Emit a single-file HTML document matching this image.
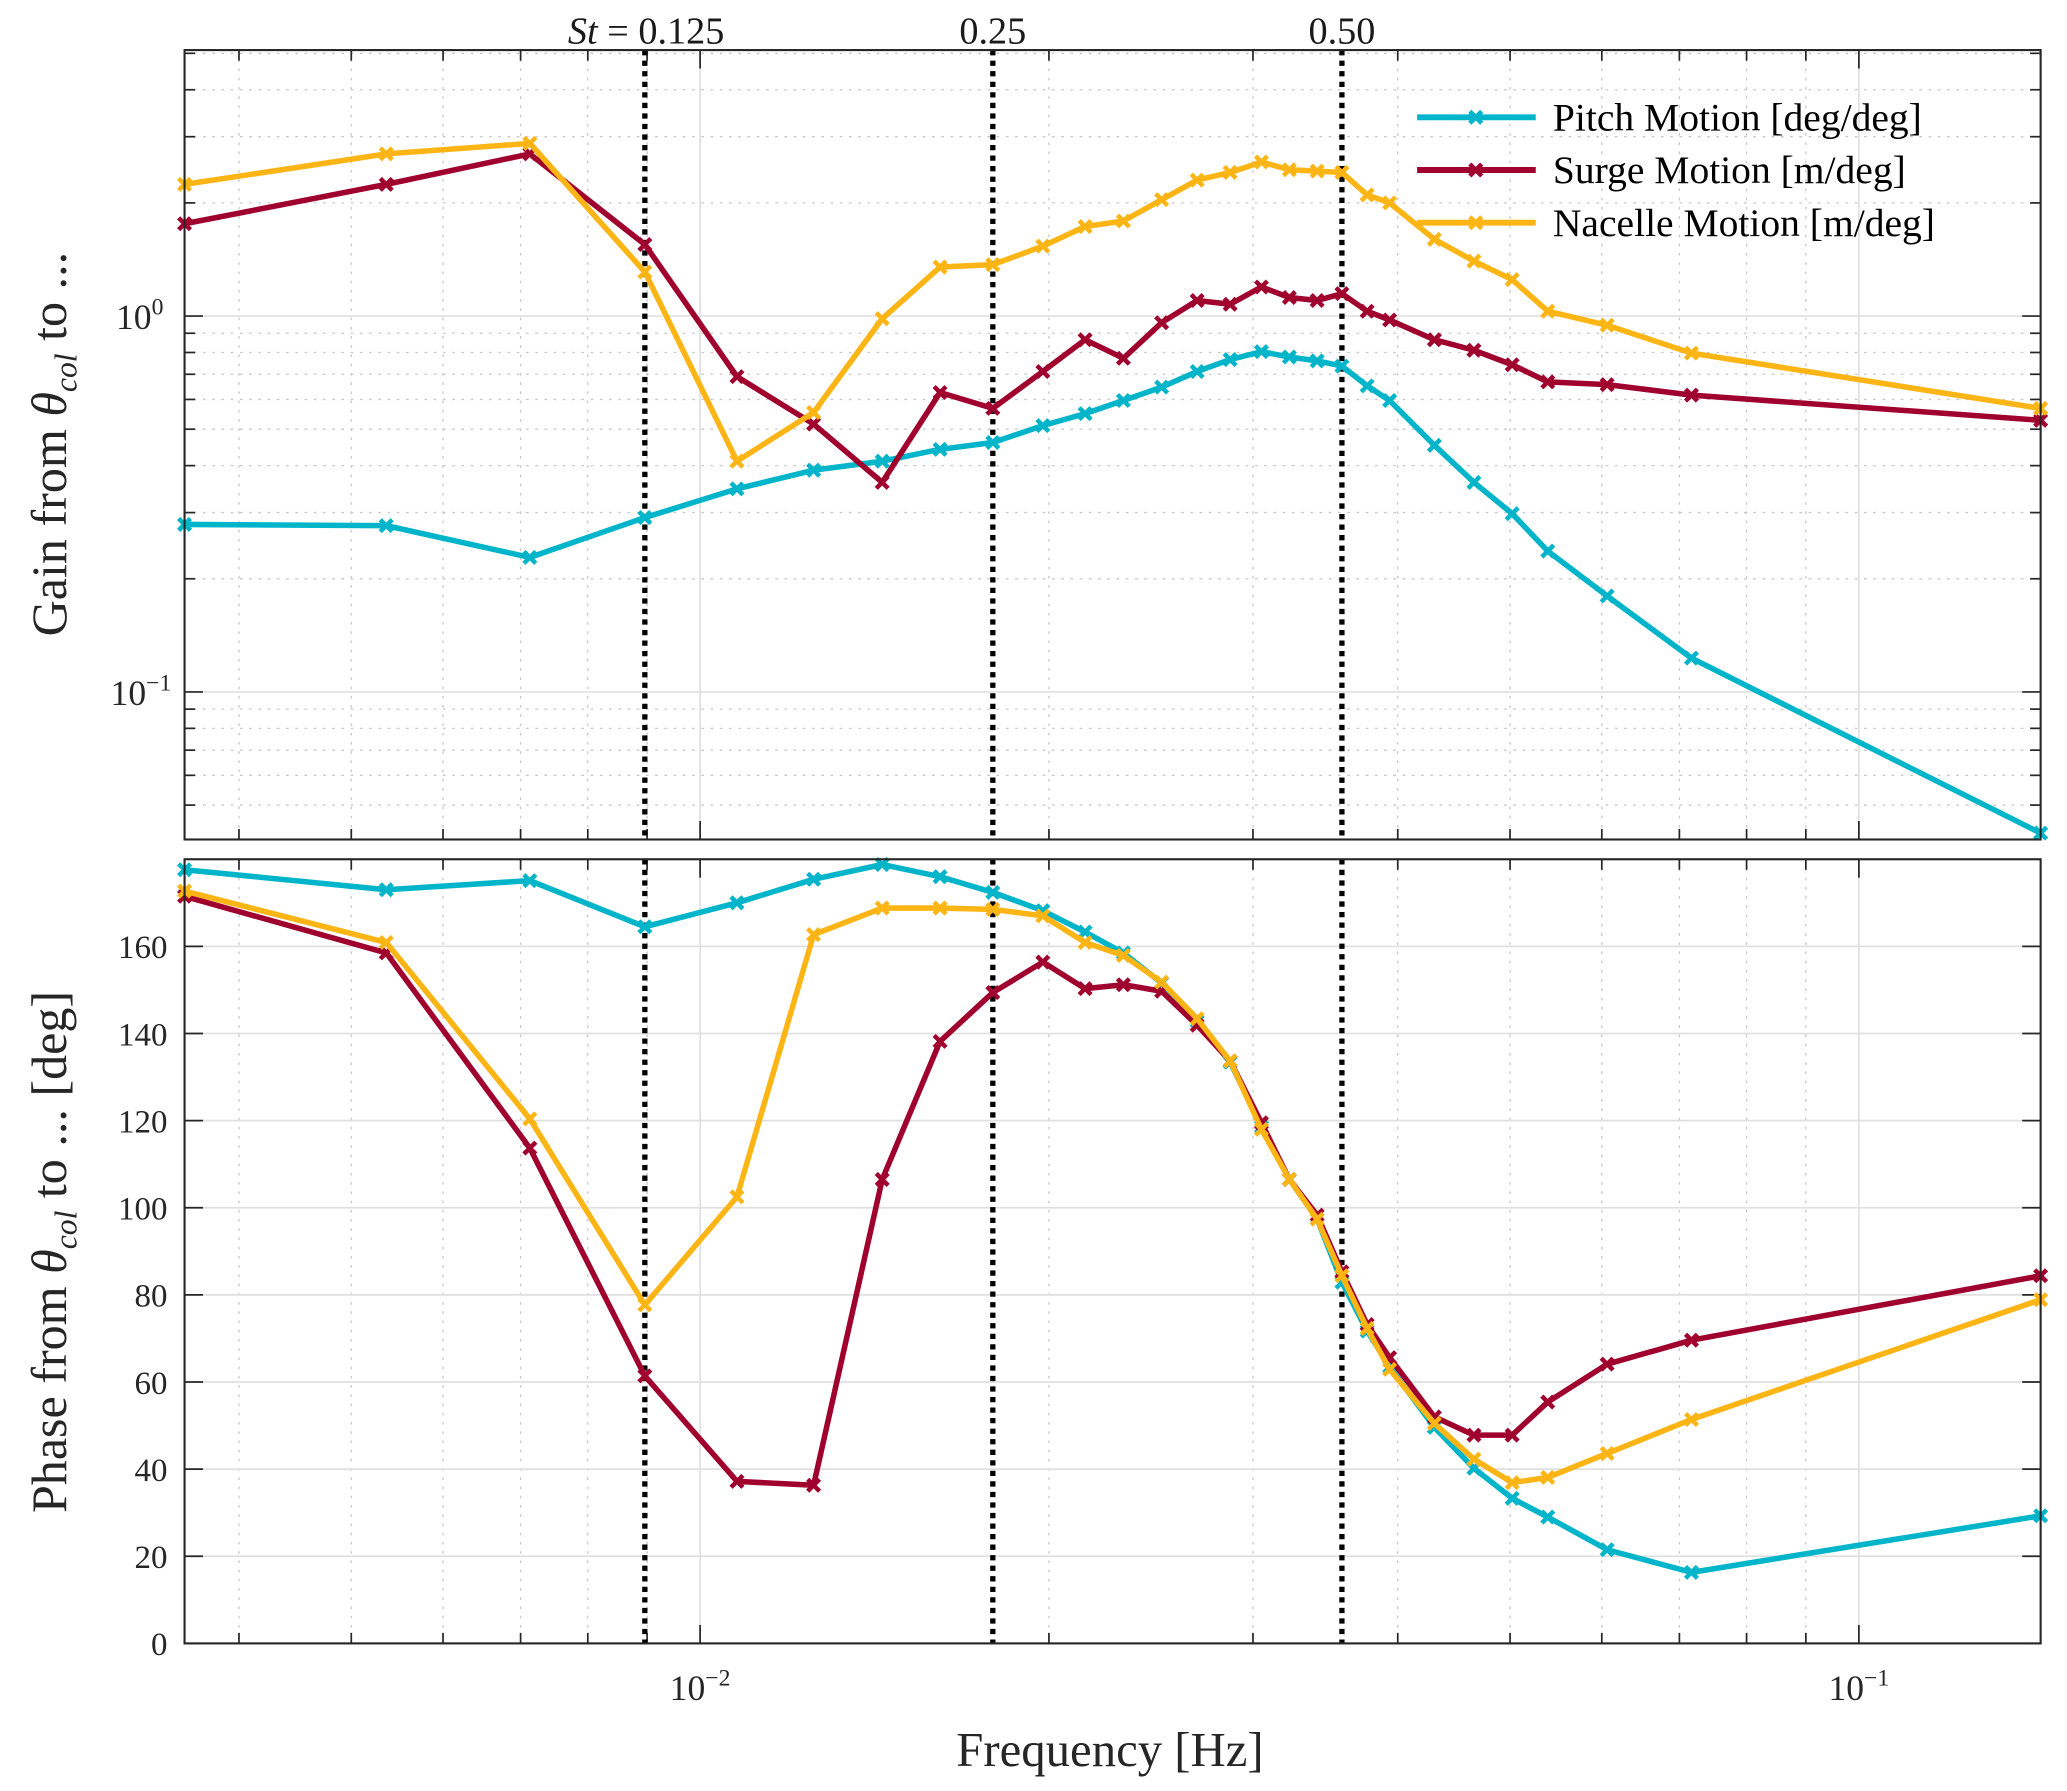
<!DOCTYPE html>
<html><head><meta charset="utf-8">
<style>
html,body{margin:0;padding:0;background:#fff;}
svg{display:block;font-family:"Liberation Serif",serif;}
</style></head>
<body>
<svg id="chart" width="2067" height="1791" viewBox="0 0 1568 1359" preserveAspectRatio="none" xmlns="http://www.w3.org/2000/svg">
<rect width="1568" height="1359" fill="#fff"/>
</svg>
<script>
const freqs = [0.00359,0.00536,0.00713,0.00896,0.01076,0.01253,0.01436,0.01611,0.01789,0.01976,0.02149,0.02319,0.02502,0.02685,0.02867,0.03051,0.03225,0.03408,0.0358,0.03764,0.03936,0.04302,0.04654,0.05021,0.05389,0.06064,0.0717,0.1435];
const pitchGain = [0.279,0.277,0.228,0.291,0.347,0.389,0.411,0.442,0.461,0.511,0.550,0.596,0.647,0.712,0.766,0.804,0.778,0.760,0.736,0.652,0.596,0.453,0.361,0.298,0.237,0.180,0.123,0.0421];
const surgeGain = [1.76,2.24,2.70,1.55,0.690,0.516,0.361,0.626,0.568,0.712,0.865,0.772,0.960,1.10,1.075,1.195,1.12,1.10,1.147,1.03,0.976,0.865,0.811,0.742,0.668,0.657,0.616,0.528];
const nacelleGain = [2.24,2.70,2.88,1.31,0.411,0.554,0.984,1.35,1.37,1.535,1.73,1.79,2.04,2.30,2.41,2.57,2.45,2.43,2.41,2.10,2.00,1.60,1.40,1.25,1.03,0.945,0.797,0.568];
const pitchPhase = [177.6,173.0,175.1,164.5,170.0,175.4,178.8,176.0,172.4,168.2,163.3,158.5,151.6,142.8,133.4,118.6,106.5,97.4,82.9,71.7,63.5,49.6,40.2,33.3,29.0,21.5,16.3,29.3];
const surgePhase = [171.5,158.5,113.7,61.4,37.2,36.3,106.5,138.2,149.4,156.4,150.3,151.2,149.7,141.9,133.7,119.5,106.5,98.3,85.3,73.2,65.6,52.0,47.8,47.8,55.4,64.1,69.6,84.4];
const nacellePhase = [172.7,160.9,120.4,77.7,102.5,162.7,168.8,168.8,168.5,167.0,160.9,157.9,151.8,143.4,133.7,118.0,106.5,97.4,84.4,72.3,62.9,50.5,42.3,36.9,38.1,43.6,51.4,78.9];
const strouhalFreqs = [0.00896,0.01789,0.0358];
const strouhalLabels = ["St = 0.125","0.25","0.50"];
const phaseTicks = [0,20,40,60,80,100,120,140,160];
const seriesNames = ["Pitch Motion [deg/deg]","Surge Motion [m/deg]","Nacelle Motion [m/deg]"];

const NS="http://www.w3.org/2000/svg";
const svg=document.getElementById('chart');
const L=140,R=1548,T1=38,B1=637,T2=652,B2=1247;
const xMin=Math.log10(0.00359),xMax=Math.log10(0.1435);
const X=f=>L+(Math.log10(f)-xMin)/(xMax-xMin)*(R-L);
const gTop=Math.log10(5.1),gBot=Math.log10(0.0405);
const YG=g=>T1+(gTop-Math.log10(g))/(gTop-gBot)*(B1-T1);
const YP=p=>B2-p/180*(B2-T2);
function mk(tag,attrs,parent){const e=document.createElementNS(NS,tag);for(const k in attrs)e.setAttribute(k,attrs[k]);(parent||svg).appendChild(e);return e;}
const colors=["#00b5c9","#a0002d","#fdb515"];

const grid=mk('g',{});


const xMinor=[],xMajor=[0.01,0.1];
for(const d of [0.001,0.01,0.1])for(let k=2;k<=9;k++){const f=k*d;if(f>0.00359&&f<0.1435)xMinor.push(f);}
for(const [T,B] of [[T1,B1],[T2,B2]]){
 xMinor.forEach(f=>mk('line',{x1:X(f),x2:X(f),y1:T,y2:B,stroke:'#c8c8c8','stroke-width':1,'stroke-dasharray':'2,5'},grid));
 xMajor.forEach(f=>mk('line',{x1:X(f),x2:X(f),y1:T,y2:B,stroke:'#e0e0e0','stroke-width':1.3},grid));
}
const yMinor=[];
for(const d of [0.01,0.1,1])for(let k=2;k<=9;k++){const g=k*d;if(g>0.0405&&g<5.1)yMinor.push(g);}
yMinor.forEach(g=>mk('line',{x1:L,x2:R,y1:YG(g),y2:YG(g),stroke:'#c8c8c8','stroke-width':1,'stroke-dasharray':'2,5'},grid));
[0.1,1].forEach(g=>mk('line',{x1:L,x2:R,y1:YG(g),y2:YG(g),stroke:'#e0e0e0','stroke-width':1.3},grid));
phaseTicks.forEach(p=>{if(p>0)mk('line',{x1:L,x2:R,y1:YP(p),y2:YP(p),stroke:'#e0e0e0','stroke-width':1.3},grid);});

const ticks=mk('g',{stroke:'#262626','stroke-width':1.3});
for(const [T,B] of [[T1,B1],[T2,B2]]){
 xMinor.forEach(f=>{mk('line',{x1:X(f),x2:X(f),y1:B,y2:B-8},ticks);mk('line',{x1:X(f),x2:X(f),y1:T,y2:T+8},ticks);});
 xMajor.forEach(f=>{mk('line',{x1:X(f),x2:X(f),y1:B,y2:B-14},ticks);mk('line',{x1:X(f),x2:X(f),y1:T,y2:T+14},ticks);});
}
yMinor.forEach(g=>{mk('line',{x1:L,x2:L+8,y1:YG(g),y2:YG(g)},ticks);mk('line',{x1:R,x2:R-8,y1:YG(g),y2:YG(g)},ticks);});
[0.1,1].forEach(g=>{mk('line',{x1:L,x2:L+14,y1:YG(g),y2:YG(g)},ticks);mk('line',{x1:R,x2:R-14,y1:YG(g),y2:YG(g)},ticks);});
phaseTicks.forEach(p=>{mk('line',{x1:L,x2:L+14,y1:YP(p),y2:YP(p)},ticks);mk('line',{x1:R,x2:R-14,y1:YP(p),y2:YP(p)},ticks);});

strouhalFreqs.forEach((f,i)=>{
 const l1=mk('line',{x1:X(f),x2:X(f),y1:T1,y2:B1,stroke:'#000','stroke-width':4,'stroke-dasharray':'4,4'});
 
 
 const l2=mk('line',{x1:X(f),x2:X(f),y1:T2,y2:B2,stroke:'#000','stroke-width':4,'stroke-dasharray':'4,4'});
 
 
 const t=mk('text',{x:X(f),y:33,'font-size':29,fill:'#1a1a1a','text-anchor':'middle'});
 if(i===0){t.innerHTML='<tspan font-style="italic">St</tspan> = 0.125';t.setAttribute('x',X(f)+1);}else t.textContent=strouhalLabels[i];
 
 
});

function series(vals,Y,color,name){
 const g=mk('g',{});
 
 
 mk('polyline',{points:vals.map((v,i)=>X(freqs[i])+','+Y(v)).join(' '),fill:'none',stroke:color,'stroke-width':4.2,'stroke-linejoin':'round'},g);
 vals.forEach((v,i)=>{const x=X(freqs[i]),y=Y(v),s=4.5;
  mk('path',{d:`M${x-s},${y-s}L${x+s},${y+s}M${x-s},${y+s}L${x+s},${y-s}`,stroke:color,'stroke-width':3.4,fill:'none'},g);});
}
series(pitchGain,YG,colors[0],'pitch-gain-line');
series(surgeGain,YG,colors[1],'surge-gain-line');
series(nacelleGain,YG,colors[2],'nacelle-gain-line');
series(pitchPhase,YP,colors[0],'pitch-phase-line');
series(surgePhase,YP,colors[1],'surge-phase-line');
series(nacellePhase,YP,colors[2],'nacelle-phase-line');

for(const [T,B,n] of [[T1,B1,'gain-axes-frame'],[T2,B2,'phase-axes-frame']]){
 const r=mk('rect',{x:L,y:T,width:R-L,height:B-T,fill:'none',stroke:'#262626','stroke-width':1.6});
 
 
}

const txt=(x,y,s,size,anchor,name,extra)=>{const t=mk('text',Object.assign({x:x,y:y,'font-size':size,fill:'#262626','text-anchor':anchor},extra||{}));t.innerHTML=s;return t;};
txt(X(0.01),1290,'10<tspan dy="-11" font-size="18">−2</tspan>',27,'middle','x-tick-0.01');
txt(X(0.1),1290,'10<tspan dy="-11" font-size="18">−1</tspan>',27,'middle','x-tick-0.1');
txt(124,YG(1)+10,'10<tspan dy="-11" font-size="18">0</tspan>',27,'end','y-tick-gain-1');
txt(130,YG(0.1)+10,'10<tspan dy="-11" font-size="18">−1</tspan>',27,'end','y-tick-gain-0.1');
phaseTicks.forEach(p=>txt(127,YP(p)+9,String(p),25,'end','y-tick-phase-'+p));

txt(842,1340,'Frequency [Hz]',37,'middle','x-axis-title');
txt(0,0,'Gain from <tspan font-style="italic">θ</tspan><tspan font-style="italic" font-size="24" dy="8">col</tspan><tspan dy="-8"> to ...</tspan>',38,'middle','y-axis-title-gain',{transform:'translate(50,337) rotate(-90)'});
txt(0,0,'Phase from <tspan font-style="italic">θ</tspan><tspan font-style="italic" font-size="24" dy="8">col</tspan><tspan dy="-8"> to ...  [deg]</tspan>',38,'middle','y-axis-title-phase',{transform:'translate(50,950) rotate(-90)'});

seriesNames.forEach((n,i)=>{
 const g=mk('g',{});
 
 
 const y=89+40*i;
 mk('line',{x1:1075,x2:1165,y1:y,y2:y,stroke:colors[i],'stroke-width':4.5},g);
 mk('path',{d:`M1115,${y-4.5}L1124,${y+4.5}M1115,${y+4.5}L1124,${y-4.5}`,stroke:colors[i],'stroke-width':3.4},g);
 const t=mk('text',{x:1178,y:y+10,'font-size':30,fill:'#000'},g);t.textContent=n;
});
</script>
</body></html>
